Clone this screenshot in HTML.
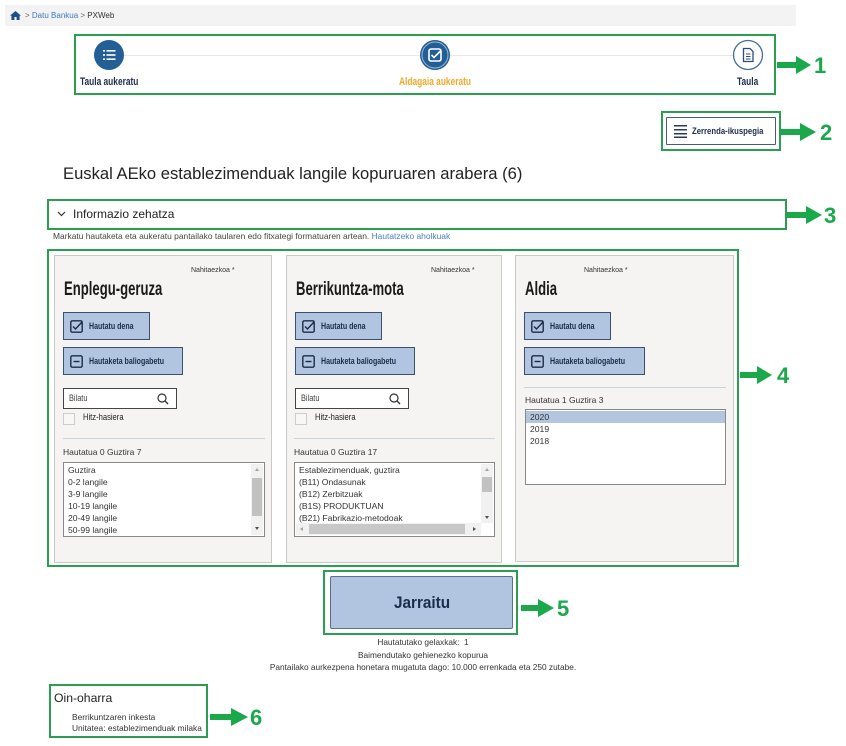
<!DOCTYPE html>
<html><head><meta charset="utf-8">
<style>
*{margin:0;padding:0;box-sizing:border-box}
html,body{width:846px;height:746px;background:#fff;overflow:hidden}
body{position:relative;font-family:"Liberation Sans",Arial,sans-serif;color:#222}
.a{position:absolute;white-space:nowrap}
.cn{display:inline-block;transform-origin:0 50%;white-space:nowrap}
.panel{position:absolute;background:#f5f4f3;border:1px solid #c9c9c9}
.nahi{position:absolute;font-size:7px;color:#333}
.ptitle{position:absolute;left:9px;top:24px;font-size:19px;line-height:19px;font-weight:bold;color:#1a1a1a}
.ptitle .cn{transform:scaleX(.69)}
.btn{position:absolute;left:8px;height:28px;background:#b1c5e0;border:1px solid #3b506f;color:#1b2a48;font-weight:bold;font-size:9.5px}
.btn svg{position:absolute;left:6px;top:7px}
.btn .t{position:absolute;left:25px;top:8px;line-height:11px}
.btn .t .cn{transform:scaleX(.74)}
.search{position:absolute;left:8px;top:132px;width:114px;height:21px;background:#fff;border:1px solid #444}
.search .t{position:absolute;left:5px;top:4px;font-size:9px;color:#444}
.search .t .cn{transform:scaleX(.82)}
.search svg{position:absolute;right:7px;top:4px}
.cb{position:absolute;left:8px;top:157px;width:12px;height:12px;border:1px solid #ccc;background:#f7f7f7}
.cbl{position:absolute;left:28px;top:156px;font-size:9.5px;color:#222}
.cbl .cn{transform:scaleX(.8)}
.sep{position:absolute;height:1px;background:#c8d3e0}
.cnt{position:absolute;font-size:8.5px;color:#333}
.list{position:absolute;background:#fff;border:1px solid #888;overflow:hidden}
.list div.i{height:12px;line-height:12px;font-size:8.6px;padding-left:4px;color:#333}
</style></head><body>

<!-- breadcrumb -->
<div class="a" style="left:5px;top:5px;width:791px;height:21px;background:#f3f3f3"></div>
<svg class="a" style="left:10px;top:11px" width="11" height="9" viewBox="0 0 11 9"><path d="M5.5 0 L11 4.6 L9.6 4.6 L9.6 9 L6.6 9 L6.6 6 L4.4 6 L4.4 9 L1.4 9 L1.4 4.6 L0 4.6 Z" fill="#1f4f82"/></svg>
<div class="a" style="left:25px;top:11px;font-size:8px;color:#666">&gt; <span style="color:#3f78bd">Datu Bankua</span> &gt; <span style="color:#333">PXWeb</span></div>

<!-- steps -->
<div class="a" style="left:124px;top:55px;width:609px;height:1px;background:#e6e6e6"></div>
<svg class="a" style="left:93px;top:39px" width="32" height="32" viewBox="0 0 32 32"><circle cx="16" cy="16" r="15" fill="#235f96"/><g fill="#fff"><rect x="10" y="11" width="2" height="1.6"/><rect x="13.5" y="11" width="9" height="1.6"/><rect x="10" y="15.2" width="2" height="1.6"/><rect x="13.5" y="15.2" width="9" height="1.6"/><rect x="10" y="19.4" width="2" height="1.6"/><rect x="13.5" y="19.4" width="9" height="1.6"/></g></svg>
<svg class="a" style="left:419px;top:39px" width="32" height="32" viewBox="0 0 32 32"><circle cx="16" cy="16" r="15" fill="#235f96"/><circle cx="16" cy="16" r="13" fill="none" stroke="#9db8d6" stroke-width="1"/><rect x="10" y="10" width="12" height="12" rx="2" fill="none" stroke="#fff" stroke-width="1.6"/><path d="M12.5 16 L15 18.5 L22 11.5" fill="none" stroke="#fff" stroke-width="1.6"/></svg>
<svg class="a" style="left:732px;top:39px" width="32" height="32" viewBox="0 0 32 32"><circle cx="16" cy="16" r="14.5" fill="#fff" stroke="#44709e" stroke-width="1.3"/><path d="M11.5 9.5 H18 L21 12.5 V22.5 H11.5 Z" fill="none" stroke="#2b4e78" stroke-width="1.3"/><path d="M14 15 H18.5 M14 17.5 H18.5 M14 20 H18.5" stroke="#2b4e78" stroke-width="1.1"/></svg>
<div class="a" style="left:80px;top:76px;font-size:11px;font-weight:bold;color:#1d2d4b"><span class="cn" style="transform:scaleX(.76)">Taula aukeratu</span></div>
<div class="a" style="left:399px;top:76px;font-size:11px;font-weight:bold;color:#f0a928"><span class="cn" style="transform:scaleX(.76)">Aldagaia aukeratu</span></div>
<div class="a" style="left:737px;top:76px;font-size:11px;font-weight:bold;color:#1d2d4b"><span class="cn" style="transform:scaleX(.76)">Taula</span></div>

<!-- list view button -->
<div class="a" style="left:666px;top:117px;width:110px;height:28px;background:#fff;border:1px solid #4b5d78;border-radius:1px"></div>
<svg class="a" style="left:674px;top:124px" width="13" height="14" viewBox="0 0 13 14"><g fill="#2a3b58"><rect x="0" y="1" width="13" height="1.5"/><rect x="0" y="5" width="13" height="1.5"/><rect x="0" y="9" width="13" height="1.5"/><rect x="0" y="12.5" width="13" height="1.5"/></g></svg>
<div class="a" style="left:692px;top:126px;font-size:9px;font-weight:bold;color:#1d2d4b"><span class="cn" style="transform:scaleX(.86)">Zerrenda-ikuspegia</span></div>

<!-- title -->
<div class="a" style="left:63px;top:164px;font-size:16.6px;color:#222">Euskal AEko establezimenduak langile kopuruaren arabera (6)</div>

<!-- info -->
<svg class="a" style="left:57px;top:211px" width="9" height="6" viewBox="0 0 9 6"><path d="M1 1 L4.5 4.5 L8 1" fill="none" stroke="#333" stroke-width="1.2"/></svg>
<div class="a" style="left:73px;top:207px;font-size:12px;color:#222">Informazio zehatza</div>
<div class="a" style="left:53px;top:231px;font-size:8.5px;color:#444"><span class="cn" style="transform:scaleX(.99)">Markatu hautaketa eta aukeratu pantailako taularen edo fitxategi formatuaren artean. <span style="color:#4a7fc0">Hautatzeko aholkuak</span></span></div>

<!-- panel 1 -->
<div class="panel" style="left:54px;top:255px;width:218px;height:308px">
  <div class="nahi" style="left:136px;top:11px">Nahitaezkoa *</div>
  <div class="ptitle"><span class="cn">Enplegu-geruza</span></div>
  <div class="btn" style="top:56px;width:87px"><svg width="13" height="13" viewBox="0 0 13 13"><rect x="0.8" y="0.8" width="11.4" height="11.4" rx="1.5" fill="none" stroke="#1b2a48" stroke-width="1.4"/><path d="M3 6.5 L5.5 9 L12 2" fill="none" stroke="#1b2a48" stroke-width="1.4"/></svg><div class="t"><span class="cn">Hautatu dena</span></div></div>
  <div class="btn" style="top:91px;width:120px"><svg width="13" height="13" viewBox="0 0 13 13"><rect x="0.8" y="0.8" width="11.4" height="11.4" rx="1.5" fill="none" stroke="#1b2a48" stroke-width="1.4"/><path d="M3.5 6.5 H9.5" stroke="#1b2a48" stroke-width="1.4"/></svg><div class="t"><span class="cn">Hautaketa baliogabetu</span></div></div>
  <div class="search"><div class="t"><span class="cn">Bilatu</span></div><svg width="12" height="12" viewBox="0 0 12 12"><circle cx="5" cy="5" r="4" fill="none" stroke="#333" stroke-width="1.2"/><path d="M8 8 L11 11" stroke="#333" stroke-width="1.3"/></svg></div>
  <div class="cb"></div><div class="cbl"><span class="cn">Hitz-hasiera</span></div>
  <div class="sep" style="left:8px;top:182px;width:202px"></div>
  <div class="cnt" style="left:8px;top:191px">Hautatua 0 Guztira 7</div>
  <div class="list" style="left:8px;top:206px;width:202px;height:75px;padding-top:1px">
    <div class="i">Guztira</div><div class="i">0-2 langile</div><div class="i">3-9 langile</div><div class="i">10-19 langile</div><div class="i">20-49 langile</div><div class="i">50-99 langile</div>
    <div style="position:absolute;right:1px;top:1px;width:12px;height:71px;background:#f1f1f1"></div>
    <div style="position:absolute;right:2px;top:15px;width:10px;height:38px;background:#c1c1c1"></div>
    <div style="position:absolute;right:5px;top:5px;width:0;height:0;border-left:2.5px solid transparent;border-right:2.5px solid transparent;border-bottom:3px solid #a3a3a3"></div>
    <div style="position:absolute;right:5px;top:64px;width:0;height:0;border-left:2.5px solid transparent;border-right:2.5px solid transparent;border-top:3px solid #505050"></div>
  </div>
</div>

<!-- panel 2 -->
<div class="panel" style="left:286px;top:255px;width:216px;height:308px">
  <div class="nahi" style="left:144px;top:11px">Nahitaezkoa *</div>
  <div class="ptitle"><span class="cn">Berrikuntza-mota</span></div>
  <div class="btn" style="top:56px;width:87px"><svg width="13" height="13" viewBox="0 0 13 13"><rect x="0.8" y="0.8" width="11.4" height="11.4" rx="1.5" fill="none" stroke="#1b2a48" stroke-width="1.4"/><path d="M3 6.5 L5.5 9 L12 2" fill="none" stroke="#1b2a48" stroke-width="1.4"/></svg><div class="t"><span class="cn">Hautatu dena</span></div></div>
  <div class="btn" style="top:91px;width:120px"><svg width="13" height="13" viewBox="0 0 13 13"><rect x="0.8" y="0.8" width="11.4" height="11.4" rx="1.5" fill="none" stroke="#1b2a48" stroke-width="1.4"/><path d="M3.5 6.5 H9.5" stroke="#1b2a48" stroke-width="1.4"/></svg><div class="t"><span class="cn">Hautaketa baliogabetu</span></div></div>
  <div class="search"><div class="t"><span class="cn">Bilatu</span></div><svg width="12" height="12" viewBox="0 0 12 12"><circle cx="5" cy="5" r="4" fill="none" stroke="#333" stroke-width="1.2"/><path d="M8 8 L11 11" stroke="#333" stroke-width="1.3"/></svg></div>
  <div class="cb"></div><div class="cbl"><span class="cn">Hitz-hasiera</span></div>
  <div class="sep" style="left:7px;top:182px;width:201px"></div>
  <div class="cnt" style="left:7px;top:191px">Hautatua 0 Guztira 17</div>
  <div class="list" style="left:7px;top:206px;width:201px;height:75px;padding-top:1px">
    <div class="i">Establezimenduak, guztira</div><div class="i">(B11) Ondasunak</div><div class="i">(B12) Zerbitzuak</div><div class="i">(B1S) PRODUKTUAN</div><div class="i">(B21) Fabrikazio-metodoak</div>
    <div style="position:absolute;right:1px;top:1px;width:12px;height:59px;background:#f1f1f1"></div>
    <div style="position:absolute;right:2px;top:14px;width:10px;height:15px;background:#c1c1c1"></div>
    <div style="position:absolute;right:5px;top:5px;width:0;height:0;border-left:2.5px solid transparent;border-right:2.5px solid transparent;border-bottom:3px solid #a3a3a3"></div>
    <div style="position:absolute;right:5px;top:53px;width:0;height:0;border-left:2.5px solid transparent;border-right:2.5px solid transparent;border-top:3px solid #505050"></div>
    <div style="position:absolute;left:1px;top:60px;width:185px;height:12px;background:#f1f1f1"></div>
    <div style="position:absolute;left:14px;top:61px;width:156px;height:10px;background:#c8c8c8"></div>
    <div style="position:absolute;left:5px;top:64px;width:0;height:0;border-top:2.5px solid transparent;border-bottom:2.5px solid transparent;border-right:3px solid #a3a3a3"></div>
    <div style="position:absolute;left:178px;top:64px;width:0;height:0;border-top:2.5px solid transparent;border-bottom:2.5px solid transparent;border-left:3px solid #505050"></div>
  </div>
</div>

<!-- panel 3 -->
<div class="panel" style="left:515px;top:255px;width:219px;height:307px">
  <div class="nahi" style="left:68px;top:11px">Nahitaezkoa *</div>
  <div class="ptitle"><span class="cn">Aldia</span></div>
  <div class="btn" style="top:56px;width:87px"><svg width="13" height="13" viewBox="0 0 13 13"><rect x="0.8" y="0.8" width="11.4" height="11.4" rx="1.5" fill="none" stroke="#1b2a48" stroke-width="1.4"/><path d="M3 6.5 L5.5 9 L12 2" fill="none" stroke="#1b2a48" stroke-width="1.4"/></svg><div class="t"><span class="cn">Hautatu dena</span></div></div>
  <div class="btn" style="top:91px;width:121px"><svg width="13" height="13" viewBox="0 0 13 13"><rect x="0.8" y="0.8" width="11.4" height="11.4" rx="1.5" fill="none" stroke="#1b2a48" stroke-width="1.4"/><path d="M3.5 6.5 H9.5" stroke="#1b2a48" stroke-width="1.4"/></svg><div class="t"><span class="cn">Hautaketa baliogabetu</span></div></div>
  <div class="sep" style="left:8px;top:131px;width:202px"></div>
  <div class="cnt" style="left:9px;top:139px">Hautatua 1 Guztira 3</div>
  <div class="list" style="left:9px;top:153px;width:201px;height:76px;padding-top:1px">
    <div class="i" style="background:#b4c6df">2020</div><div class="i">2019</div><div class="i">2018</div>
  </div>
</div>

<!-- Jarraitu -->
<div class="a" style="left:330px;top:576px;width:183px;height:53px;background:#b1c5e0;border:1px solid #5b6f8e;border-radius:2px"></div>
<div class="a" style="left:394px;top:593px;font-size:17px;font-weight:bold;color:#1b2c4c"><span class="cn" style="transform:scaleX(.9)">Jarraitu</span></div>
<div class="a" style="left:0;width:846px;top:636px;text-align:center;font-size:8.3px;line-height:12.5px;color:#333">
<div>Hautatutako gelaxkak:&nbsp;&nbsp;1</div>
<div>Baimendutako gehienezko kopurua</div>
<div>Pantailako aurkezpena honetara mugatuta dago: 10.000 errenkada eta 250 zutabe.</div>
</div>

<!-- footnote -->
<div class="a" style="left:54px;top:691px;font-size:12.2px;color:#222">Oin-oharra</div>
<div class="a" style="left:72px;top:712px;font-size:8.4px;line-height:10.5px;color:#333">Berrikuntzaren inkesta<br>Unitatea: establezimenduak milaka</div>

<!-- annotation overlay -->
<svg class="a" style="left:0;top:0" width="846" height="746" viewBox="0 0 846 746">
<g fill="none" stroke="#2b9e52" stroke-width="2">
<rect x="75" y="35" width="700" height="59"/>
<rect x="662" y="112" width="118" height="38"/>
<rect x="48" y="200" width="738" height="29"/>
<rect x="48" y="250" width="690" height="316"/>
<rect x="324" y="571" width="193" height="63"/>
<rect x="50" y="685" width="157" height="52"/>
</g>
<g fill="#1ba84b">
<path d="M777 62 H796 V56 L811 65 L796 74 V68 H777 Z"/>
<path d="M781 129 H800 V123 L816 132 L800 141 V135 H781 Z"/>
<path d="M787 212 H806 V206 L822 215 L806 224 V218 H787 Z"/>
<path d="M740 372 H757 V366 L772 375 L757 384 V378 H740 Z"/>
<path d="M521 605 H538 V599 L554 608 L538 617 V611 H521 Z"/>
<path d="M210 714 H231 V708 L248 717 L231 726 V720 H210 Z"/>
</g>
<g fill="#1ba84b" font-family="Liberation Sans, Arial, sans-serif" font-weight="bold" font-size="22">
<text x="814" y="73">1</text>
<text x="820" y="140">2</text>
<text x="824" y="223">3</text>
<text x="777" y="383">4</text>
<text x="557" y="616">5</text>
<text x="250" y="725">6</text>
</g>
</svg>
</body></html>
